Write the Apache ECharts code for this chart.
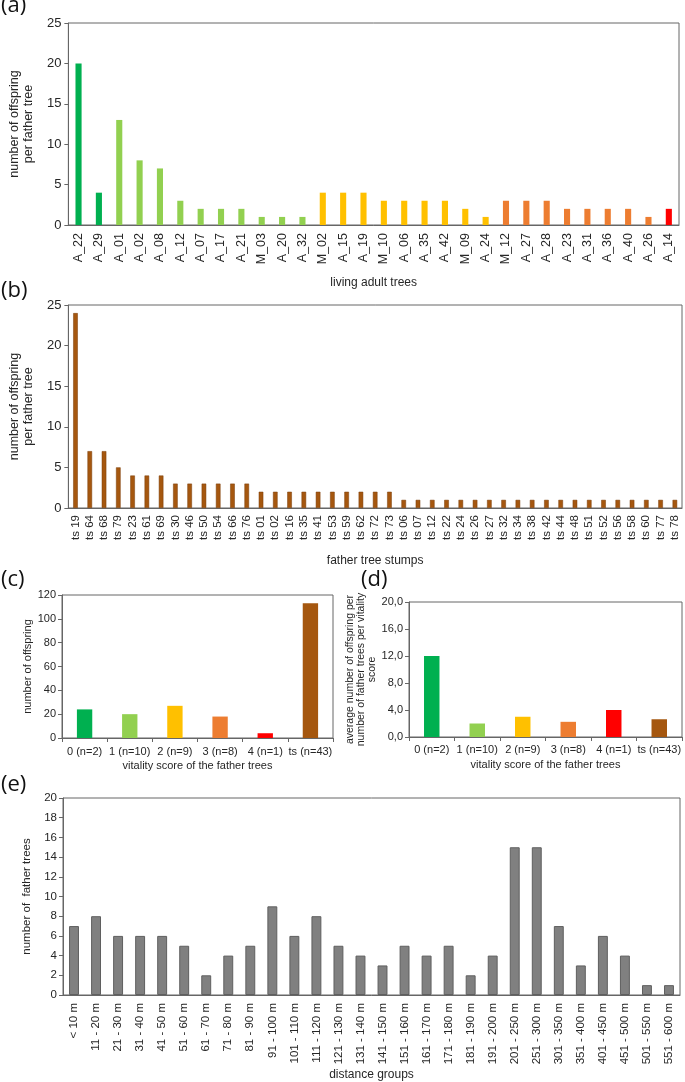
<!DOCTYPE html>
<html><head><meta charset="utf-8">
<script src="https://cdn.jsdelivr.net/npm/echarts@6/dist/echarts.min.js"></script>
<style>html,body{margin:0;padding:0;background:#fff}#c{width:685px;height:1082px}</style>
</head><body><div id="c"></div>
<script>
// (a) living adult trees
const aCats = ['A_22','A_29','A_01','A_02','A_08','A_12','A_07','A_17','A_21','M_03','A_20','A_32','M_02','A_15','A_19','M_10','A_06','A_35','A_42','M_09','A_24','M_12','A_27','A_28','A_23','A_31','A_36','A_40','A_26','A_14'];
const aVals = [20,4,13,8,7,3,2,2,2,1,1,1,4,4,4,3,3,3,3,2,1,3,3,3,2,2,2,2,1,2];
const aScore = [0,0,1,1,1,1,1,1,1,1,1,1,2,2,2,2,2,2,2,2,2,3,3,3,3,3,3,3,3,4];
// (b) father tree stumps
const bCats = ['ts 19','ts 64','ts 68','ts 79','ts 23','ts 61','ts 69','ts 30','ts 46','ts 50','ts 54','ts 66','ts 76','ts 01','ts 02','ts 16','ts 35','ts 41','ts 53','ts 59','ts 62','ts 72','ts 73','ts 06','ts 07','ts 12','ts 22','ts 24','ts 26','ts 27','ts 32','ts 34','ts 38','ts 42','ts 44','ts 48','ts 51','ts 52','ts 56','ts 58','ts 60','ts 77','ts 78'];
const bVals = [24,7,7,5,4,4,4,3,3,3,3,3,3,2,2,2,2,2,2,2,2,2,2,1,1,1,1,1,1,1,1,1,1,1,1,1,1,1,1,1,1,1,1];
// (c),(d) vitality score
const vCats = ['0 (n=2)','1 (n=10)','2 (n=9)','3 (n=8)','4 (n=1)','ts (n=43)'];
const vScore = [0,1,2,3,4,5];
const cVals = [24,20,27,18,4,113];
const dVals = [12.0,2.0,3.0,2.25,4.0,2.63];
// (e) distance groups
const eCats = ['< 10 m','11 - 20 m','21 - 30 m','31 - 40 m','41 - 50 m','51 - 60 m','61 - 70 m','71 - 80 m','81 - 90 m','91 - 100 m','101 - 110 m','111 - 120 m','121 - 130 m','131 - 140 m','141 - 150 m','151 - 160 m','161 - 170 m','171 - 180 m','181 - 190 m','191 - 200 m','201 - 250 m','251 - 300 m','301 - 350 m','351 - 400 m','401 - 450 m','451 - 500 m','501 - 550 m','551 - 600 m'];
const eVals = [7,8,6,6,6,5,2,4,5,9,6,8,5,4,3,5,4,5,2,4,15,15,7,3,6,4,1,1];

const palette = ['#00B050','#92D050','#FFC000','#ED7D31','#FF0000','#A5570F'];
const FONT = '"Liberation Sans", Arial, sans-serif';
const TXT = '#262626';
const FRAME = '#666666';

function grid(l,t,w,h){return {left:l,top:t,width:w,height:h,show:true,borderColor:FRAME,borderWidth:1,backgroundColor:'transparent'};}
function xCat(gi,data,opt){
  return Object.assign({type:'category',gridIndex:gi,data:data,
    axisLine:{lineStyle:{color:FRAME,width:1}},
    axisTick:{show:false},
    axisLabel:{interval:0,color:TXT,fontFamily:FONT,fontSize:11,margin:7},
    nameLocation:'middle',nameTextStyle:{color:TXT,fontFamily:FONT,fontSize:12}},opt||{});
}
function yVal(gi,min,max,interval,opt){
  return Object.assign({type:'value',gridIndex:gi,min:min,max:max,interval:interval,
    splitLine:{show:false},
    axisLine:{show:true,lineStyle:{color:FRAME,width:1}},
    axisTick:{show:true,length:4,lineStyle:{color:FRAME}},
    axisLabel:{color:TXT,fontFamily:FONT,fontSize:13,margin:7},
    nameLocation:'middle',nameRotate:90,nameTextStyle:{color:TXT,fontFamily:FONT,fontSize:12.5,lineHeight:14}},opt||{});
}
function letter(txt,x,y){return {type:'text',left:x,top:y,style:{text:txt,font:'22px "Open Sans"',fill:'#111'}};}

const option = {
  animation:false,
  backgroundColor:'#fff',
  grid:[grid(63,23,616,202),grid(63,305,619,203),grid(62,595,271,143),grid(409,602,273,135),grid(63,798,617,197)],
  xAxis:[
    xCat(0,aCats,{name:'living adult trees',nameGap:52,axisLabel:{interval:0,rotate:90,color:TXT,fontFamily:FONT,fontSize:12.5,margin:8}}),
    xCat(1,bCats,{name:'father tree stumps',nameGap:47,axisLabel:{interval:0,rotate:90,color:TXT,fontFamily:FONT,fontSize:11.5,margin:7}}),
    xCat(2,vCats,{name:'vitality score of the father trees',nameGap:22,axisTick:{show:true,length:4,lineStyle:{color:FRAME}},
      axisLabel:{interval:0,color:TXT,fontFamily:FONT,fontSize:11,margin:8},nameTextStyle:{color:TXT,fontFamily:FONT,fontSize:11}}),
    xCat(3,vCats,{name:'vitality score of the father trees',nameGap:22,axisTick:{show:true,length:4,lineStyle:{color:FRAME}},
      axisLabel:{interval:0,color:TXT,fontFamily:FONT,fontSize:11,margin:7},nameTextStyle:{color:TXT,fontFamily:FONT,fontSize:11}}),
    xCat(4,eCats,{name:'distance groups',nameGap:74,axisLabel:{interval:0,rotate:90,color:TXT,fontFamily:FONT,fontSize:11.5,margin:8}})
  ],
  yAxis:[
    yVal(0,0,25,5,{name:'number of offspring\nper father tree',nameGap:30}),
    yVal(1,0,25,5,{name:'number of offspring\nper father tree',nameGap:30}),
    yVal(2,0,120,20,{name:'number of offspring',nameGap:29,axisLabel:{color:TXT,fontFamily:FONT,fontSize:11,margin:6},nameTextStyle:{color:TXT,fontFamily:FONT,fontSize:11}}),
    yVal(3,0,20,4,{name:'average number of offspring per\nnumber of father trees per vitality\nscore',nameGap:27,
      axisLabel:{color:TXT,fontFamily:FONT,fontSize:11,margin:6,formatter:v=>v.toFixed(1).replace('.',',')},
      nameTextStyle:{color:TXT,fontFamily:FONT,fontSize:10.5,lineHeight:11}}),
    yVal(4,0,20,2,{name:'number of  father trees',nameGap:30,axisLabel:{color:TXT,fontFamily:FONT,fontSize:11.5,margin:6},nameTextStyle:{color:TXT,fontFamily:FONT,fontSize:11.5}})
  ],
  series:[
    {type:'bar',xAxisIndex:0,yAxisIndex:0,barWidth:'30%',
      data:aVals.map((v,i)=>({value:v,itemStyle:{color:palette[aScore[i]]}}))},
    {type:'bar',xAxisIndex:1,yAxisIndex:1,barWidth:'32%',itemStyle:{color:'#A5570F',borderColor:'#7a3d08',borderWidth:0.5},data:bVals},
    {type:'bar',xAxisIndex:2,yAxisIndex:2,barWidth:'34%',
      data:cVals.map((v,i)=>({value:v,itemStyle:{color:palette[vScore[i]]}}))},
    {type:'bar',xAxisIndex:3,yAxisIndex:3,barWidth:'34%',
      data:dVals.map((v,i)=>({value:v,itemStyle:{color:palette[vScore[i]]}}))},
    {type:'bar',xAxisIndex:4,yAxisIndex:4,barWidth:'45%',itemStyle:{color:'#808080',borderColor:'#5f5f5f',borderWidth:1},data:eVals}
  ],
  graphic:[letter('(a)',1,-5),letter('(b)',1,280),letter('(c)',1,569),letter('(d)',361,569),letter('(e)',1,774)]
};
const chart = echarts.init(document.getElementById('c'),null,{renderer:'canvas',width:685,height:1082});
chart.setOption(option);
</script></body></html>
